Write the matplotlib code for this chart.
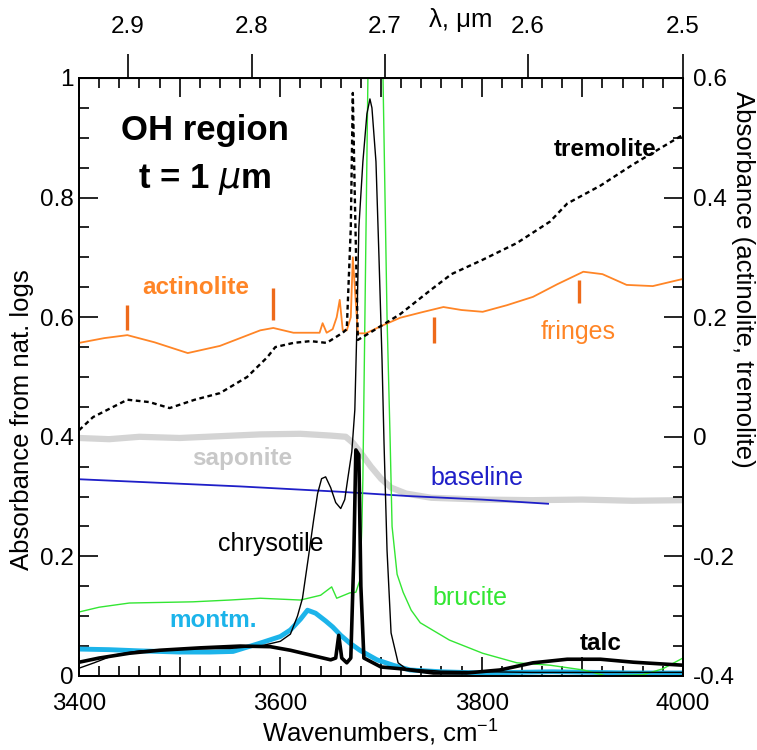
import matplotlib
matplotlib.use("Agg")
import matplotlib.pyplot as plt
from matplotlib.ticker import MultipleLocator, FuncFormatter, NullLocator

plt.rcParams['font.family'] = ['Liberation Sans', 'DejaVu Sans']
plt.rcParams['axes.unicode_minus'] = False

# spectra, wavenumbers in cm-1, absorbance (left scale unless noted)
sap_wn = [3400, 3430, 3460, 3500, 3540, 3580, 3620, 3650, 3665, 3672, 3680, 3690, 3700,
          3710, 3725, 3750, 3800, 3850, 3900, 3950, 4000]
sap_abs = [0.398, 0.396, 0.400, 0.398, 0.401, 0.404, 0.405, 0.402, 0.400, 0.390, 0.373, 0.350,
           0.330, 0.315, 0.305, 0.298, 0.295, 0.294, 0.295, 0.293, 0.294]

base_wn = [3400, 3560, 3660, 3726, 3800, 3866]
base_abs = [0.329, 0.317, 0.308, 0.301, 0.295, 0.288]

chry_wn = [3400, 3415, 3435, 3460, 3500, 3550, 3580, 3600, 3610, 3617, 3622, 3628, 3633,
           3637, 3641, 3645, 3650, 3655, 3660, 3664, 3667, 3671, 3674, 3676, 3678, 3682,
           3686, 3689, 3691, 3695, 3698, 3701, 3703, 3706, 3710, 3717, 3725, 3760, 3850, 4000]
chry_abs = [0.013, 0.022, 0.035, 0.042, 0.045, 0.046, 0.050, 0.058, 0.070, 0.100, 0.130,
            0.200, 0.260, 0.305, 0.330, 0.333, 0.315, 0.290, 0.280, 0.295, 0.330, 0.375,
            0.445, 0.580, 0.750, 0.860, 0.940, 0.965, 0.950, 0.860, 0.700, 0.530, 0.390,
            0.210, 0.072, 0.022, 0.012, 0.008, 0.006, 0.006]

talc_wn = [3400, 3420, 3450, 3480, 3520, 3560, 3590, 3610, 3630, 3650, 3655, 3658, 3661,
           3666, 3670, 3673, 3675, 3678, 3680, 3683, 3700, 3720, 3752, 3785, 3818, 3851,
           3885, 3918, 3951, 4000]
talc_abs = [0.023, 0.030, 0.038, 0.043, 0.047, 0.050, 0.049, 0.043, 0.035, 0.027, 0.030,
            0.068, 0.030, 0.022, 0.030, 0.200, 0.378, 0.370, 0.150, 0.030, 0.015, 0.012,
            0.005, 0.005, 0.010, 0.022, 0.028, 0.028, 0.023, 0.018]

bru_wn = [3400, 3420, 3450, 3513, 3550, 3580, 3620, 3640, 3651, 3656, 3669, 3675, 3679,
          3681, 3682, 3687, 3695, 3702, 3706, 3709, 3711, 3716, 3722, 3730, 3739, 3768,
          3801, 3835, 3868, 3901, 3924, 3960, 3980, 4000]
bru_abs = [0.107, 0.115, 0.122, 0.124, 0.127, 0.130, 0.127, 0.135, 0.149, 0.130, 0.139,
           0.140, 0.160, 0.250, 0.330, 1.000, 1.500, 1.000, 0.600, 0.400, 0.250, 0.170,
           0.140, 0.110, 0.089, 0.060, 0.038, 0.022, 0.018, 0.010, 0.000, 0.002, 0.012, 0.030]

mont_wn = [3400, 3430, 3460, 3500, 3530, 3553, 3580, 3600, 3610, 3620, 3627, 3635, 3645,
           3652, 3660, 3669, 3679, 3696, 3712, 3729, 3760, 3800, 3870, 3950, 4000]
mont_abs = [0.045, 0.044, 0.042, 0.040, 0.040, 0.041, 0.055, 0.066, 0.077, 0.095, 0.110,
            0.105, 0.092, 0.082, 0.068, 0.055, 0.043, 0.027, 0.018, 0.010, 0.007, 0.005,
            0.007, 0.005, 0.005]

# actinolite and tremolite use the right-hand scale
act_wn = [3400, 3425, 3448, 3475, 3508, 3540, 3580, 3593, 3613, 3639, 3642, 3646, 3652,
          3656, 3659, 3662, 3666, 3670, 3672, 3677, 3685, 3700, 3719, 3740, 3762, 3780,
          3801, 3825, 3851, 3875, 3901, 3920, 3944, 3970, 4000]
act_abs = [0.157, 0.165, 0.170, 0.158, 0.140, 0.152, 0.178, 0.182, 0.174, 0.174, 0.190,
           0.174, 0.180, 0.200, 0.229, 0.178, 0.178, 0.200, 0.300, 0.173, 0.173, 0.185,
           0.199, 0.208, 0.217, 0.212, 0.209, 0.220, 0.234, 0.255, 0.276, 0.272, 0.254,
           0.252, 0.264]

trem_wn = [3400, 3414, 3448, 3470, 3490, 3515, 3540, 3567, 3587, 3595, 3613, 3630, 3646,
           3662, 3666, 3670, 3672, 3674, 3677, 3690, 3719, 3749, 3770, 3801, 3835, 3868,
           3885, 3918, 3950, 3975, 4000]
trem_abs = [0.011, 0.033, 0.062, 0.058, 0.048, 0.062, 0.073, 0.100, 0.133, 0.150, 0.157,
            0.160, 0.157, 0.174, 0.180, 0.350, 0.575, 0.400, 0.162, 0.175, 0.205, 0.245,
            0.272, 0.296, 0.324, 0.360, 0.390, 0.420, 0.455, 0.480, 0.505]

# interference fringe markers (right scale)
fringe_wn = [3448, 3593, 3753, 3897]
fringe_lo = [0.179, 0.195, 0.157, 0.224]
fringe_hi = [0.220, 0.249, 0.200, 0.262]

lam_ticks = [2.9, 2.8, 2.7, 2.6, 2.5]

fig = plt.figure(figsize=(7.57, 7.5), dpi=100)
ax = fig.add_axes([0.1044, 0.0987, 0.7978, 0.7973])

ax.plot(sap_wn, sap_abs, color='#d4d4d4', lw=4.5, solid_capstyle='butt')
ax.plot(base_wn, base_abs, color='#1f1fc8', lw=1.3)
ax.plot(mont_wn, mont_abs, color='#1cb4ea', lw=3.5)
ax.plot(bru_wn, bru_abs, color='#33e633', lw=1.0)
ax.plot(chry_wn, chry_abs, color='black', lw=1.0)
ax.plot(talc_wn, talc_abs, color='black', lw=2.6)

ax.set_xlim(3400, 4000)
ax.set_ylim(0, 1)

ax2 = ax.twinx()
ax2.plot(act_wn, act_abs, color='#ff8526', lw=1.3)
ax2.plot(trem_wn, trem_abs, color='black', lw=1.7, ls=(0, (2, 1.5)))
ax2.vlines(fringe_wn, fringe_lo, fringe_hi, color='#ee6a1a', lw=2.4)
ax2.set_ylim(-0.4, 0.6)

for a in (ax, ax2):
    for s in a.spines.values():
        s.set_linewidth(1.3)

fs = 17.5
ax.xaxis.set_major_locator(MultipleLocator(100))
ax.xaxis.set_minor_locator(MultipleLocator(20))
ax.xaxis.set_major_formatter(FuncFormatter(lambda v, p: '%d' % v if round(v) % 200 == 0 else ''))
ax.yaxis.set_major_locator(MultipleLocator(0.2))
ax.yaxis.set_minor_locator(MultipleLocator(0.05))
ax.yaxis.set_major_formatter(FuncFormatter(lambda v, p: '%g' % round(v, 2)))
ax.tick_params(axis='x', which='both', direction='in', top=True, labelsize=fs, pad=12, width=1.2)
ax.tick_params(axis='x', which='major', length=14)
ax.tick_params(axis='x', which='minor', length=7)
ax.tick_params(axis='y', which='both', direction='in', right=False, labelsize=fs, pad=4, width=1.2)
ax.tick_params(axis='y', which='major', length=14)
ax.tick_params(axis='y', which='minor', length=7)

ax2.yaxis.set_major_locator(MultipleLocator(0.2))
ax2.yaxis.set_minor_locator(MultipleLocator(0.05))
ax2.yaxis.set_major_formatter(FuncFormatter(lambda v, p: '%g' % round(v, 2)))
ax2.tick_params(axis='y', which='both', direction='in', labelsize=fs, pad=7, width=1.2)
ax2.tick_params(axis='y', which='major', length=14)
ax2.tick_params(axis='y', which='minor', length=7)

# wavelength scale on top
secax = ax.secondary_xaxis('top', functions=(lambda x: 1e4 / x, lambda l: 1e4 / l))
secax.set_xticks(lam_ticks)
secax.set_xticklabels(['%.1f' % v for v in lam_ticks])
secax.xaxis.set_minor_locator(NullLocator())
secax.tick_params(direction='out', length=17, width=1.2, labelsize=fs, pad=12)

fig.text(0.029, 0.44, 'Absorbance from nat. logs', rotation=90, ha='center', va='center', fontsize=18.5)
fig.text(0.9815, 0.628, 'Absorbance (actinolite, tremolite)', rotation=-90, ha='center', va='center',
         fontsize=18.5)
fig.text(0.503, 0.024, r'Wavenumbers, cm$^{\mathregular{-1}}$', ha='center', va='center', fontsize=18.5)
fig.text(0.609, 0.973, 'λ, μm', ha='center', va='center', fontsize=18.5)

ax.text(3525, 0.912, 'OH region', ha='center', va='center', fontsize=25, fontweight='bold')
ax.text(3525, 0.830, r't = 1 $\mu$m', ha='center', va='center', fontsize=25, fontweight='bold')
ax.text(3923, 0.880, 'tremolite', ha='center', va='center', fontsize=17.5, fontweight='bold')
ax.text(3516, 0.649, 'actinolite', ha='center', va='center', fontsize=17.5, fontweight='bold', color='#ff8526')
ax.text(3896, 0.575, 'fringes', ha='center', va='center', fontsize=18, color='#ff8526')
ax.text(3562, 0.363, 'saponite', ha='center', va='center', fontsize=17.5, fontweight='bold', color='#c8c8c8')
ax.text(3795, 0.331, 'baseline', ha='center', va='center', fontsize=18, color='#1f1fc8')
ax.text(3590, 0.221, 'chrysotile', ha='center', va='center', fontsize=18)
ax.text(3788, 0.130, 'brucite', ha='center', va='center', fontsize=18, color='#33e633')
ax.text(3533, 0.092, 'montm.', ha='center', va='center', fontsize=17.5, fontweight='bold', color='#1cb4ea')
ax.text(3918, 0.055, 'talc', ha='center', va='center', fontsize=17.5, fontweight='bold')

fig.savefig('out.png', dpi=100)
